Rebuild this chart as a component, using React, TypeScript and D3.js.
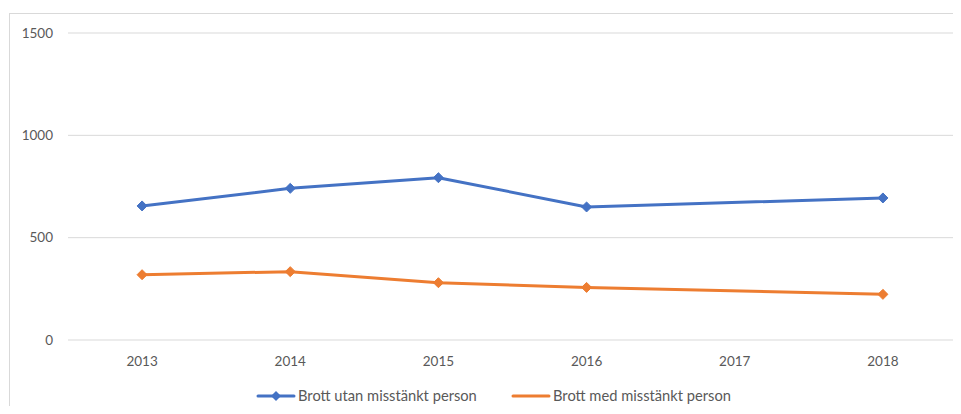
import React, { useEffect, useRef } from "react";
import * as d3 from "d3";

const years = ["2013", "2014", "2015", "2016", "2017", "2018"];
const utanMisstankt: (number | null)[] = [655, 741, 793, 650, null, 694];
const medMisstankt: (number | null)[] = [319, 334, 280, 257, null, 223];
const yTicks = [0, 500, 1000, 1500];

const seriesList = [
  { name: "Brott utan misstänkt person", values: utanMisstankt, color: "#4472C4", legendMarker: true },
  { name: "Brott med misstänkt person", values: medMisstankt, color: "#ED7D31", legendMarker: false }
];

const App = () => {
  const svgRef = useRef<SVGSVGElement>(null);

  useEffect(() => {
    const width = 961;
    const height = 414;
    const font = "Lato, 'Open Sans', sans-serif";

    const svg = d3.select(svgRef.current);
    svg.selectAll("*").remove();
    svg.attr("width", width).attr("height", height);

    svg.append("rect")
      .attr("width", width)
      .attr("height", height)
      .attr("fill", "#fff");

    // chart border
    svg.append("rect")
      .attr("x", 9.5)
      .attr("y", 13.5)
      .attr("width", 980)
      .attr("height", 420)
      .attr("fill", "none")
      .attr("stroke", "#D9D9D9");

    const x = d3.scaleBand().domain(years).range([68, 957]);
    const y = d3.scaleLinear().domain([0, 1500]).range([340, 33]);

    // gridlines
    svg.append("g")
      .selectAll("line")
      .data(yTicks)
      .enter()
      .append("line")
      .attr("x1", 68)
      .attr("x2", 957)
      .attr("y1", d => y(d))
      .attr("y2", d => y(d))
      .attr("stroke", "#D9D9D9")
      .attr("stroke-width", 1);

    // y labels
    svg.append("g")
      .selectAll("text")
      .data(yTicks)
      .enter()
      .append("text")
      .attr("x", 53)
      .attr("y", d => y(d))
      .attr("dy", "0.35em")
      .attr("text-anchor", "end")
      .style("font-family", font)
      .style("font-size", "13.5px")
      .style("fill", "#595959")
      .text(d => d);

    // x labels
    svg.append("g")
      .selectAll("text")
      .data(years)
      .enter()
      .append("text")
      .attr("x", d => (x(d) ?? 0) + x.bandwidth() / 2)
      .attr("y", 361)
      .attr("dy", "0.35em")
      .attr("text-anchor", "middle")
      .style("font-family", font)
      .style("font-size", "13.5px")
      .style("fill", "#595959")
      .text(d => d);

    const cx = (i: number) => (x(years[i]) ?? 0) + x.bandwidth() / 2;
    const diamond = d3.symbol().type(d3.symbolDiamond2).size(64);

    seriesList.forEach(s => {
      const pts = s.values
        .map((v, i) => ({ i, v }))
        .filter(p => p.v !== null) as { i: number; v: number }[];

      const line = d3.line<{ i: number; v: number }>()
        .x(p => cx(p.i))
        .y(p => y(p.v));

      svg.append("path")
        .datum(pts)
        .attr("d", line)
        .attr("fill", "none")
        .attr("stroke", s.color)
        .attr("stroke-width", 3)
        .attr("stroke-linejoin", "round")
        .attr("stroke-linecap", "round");

      svg.append("g")
        .selectAll("path")
        .data(pts)
        .enter()
        .append("path")
        .attr("d", diamond)
        .attr("transform", p => `translate(${cx(p.i)}, ${y(p.v)})`)
        .attr("fill", s.color)
        .attr("stroke", s.color);
    });

    // legend
    const legendX = [258, 513];
    seriesList.forEach((s, i) => {
      const g = svg.append("g").attr("transform", `translate(${legendX[i]}, 396)`);
      g.append("line")
        .attr("x1", 0)
        .attr("x2", 36)
        .attr("stroke", s.color)
        .attr("stroke-width", 3)
        .attr("stroke-linecap", "round");
      if (s.legendMarker) {
        g.append("path")
          .attr("d", diamond)
          .attr("transform", "translate(18, 0)")
          .attr("fill", s.color);
      }
      g.append("text")
        .attr("x", 40)
        .attr("dy", "0.35em")
        .style("font-family", font)
        .style("font-size", "14.7px")
        .style("fill", "#595959")
        .text(s.name);
    });
  }, []);

  return (
    <div style={{ margin: -8 }}>
      <svg ref={svgRef} style={{ display: "block" }}></svg>
    </div>
  );
};

export default App;
